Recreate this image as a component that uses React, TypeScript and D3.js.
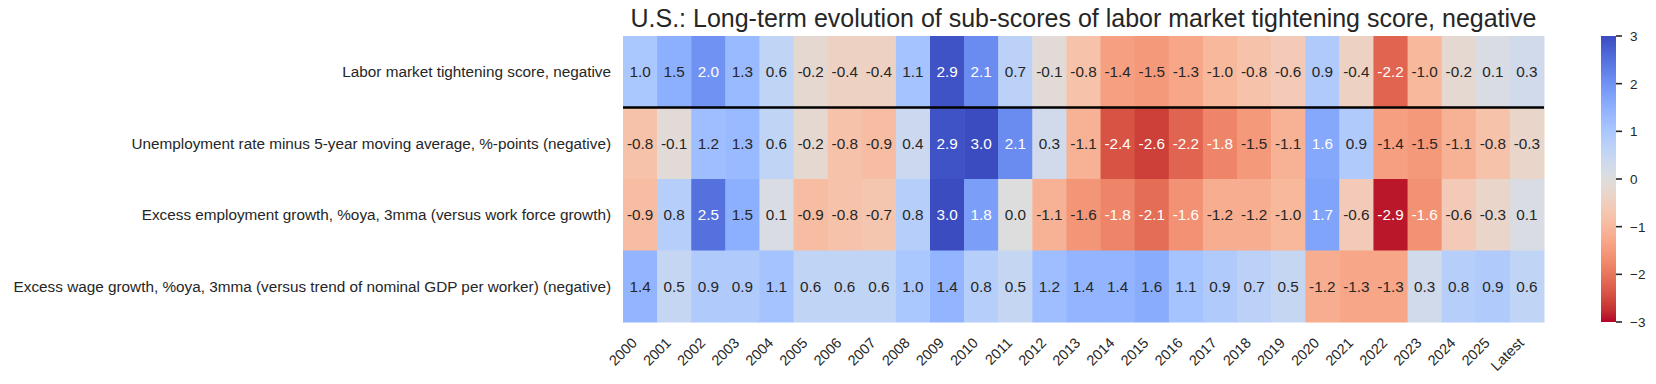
import React from "react";
import * as d3 from "d3";

// columns (years + latest reading)
const columns = [
  "2000", "2001", "2002", "2003", "2004", "2005", "2006", "2007", "2008",
  "2009", "2010", "2011", "2012", "2013", "2014", "2015", "2016", "2017",
  "2018", "2019", "2020", "2021", "2022", "2023", "2024", "2025", "Latest",
];

const rowLabels = [
  "Labor market tightening score, negative",
  "Unemployment rate minus 5-year moving average, %-points (negative)",
  "Excess employment growth, %oya, 3mma (versus work force growth)",
  "Excess wage growth, %oya, 3mma (versus trend of nominal GDP per worker) (negative)",
];

const tighteningScore = [
  1.0, 1.5, 2.0, 1.3, 0.6, -0.2, -0.4, -0.4, 1.1, 2.9, 2.1, 0.7, -0.1, -0.8,
  -1.4, -1.5, -1.3, -1.0, -0.8, -0.6, 0.9, -0.4, -2.2, -1.0, -0.2, 0.1, 0.3,
];
const unemploymentGap = [
  -0.8, -0.1, 1.2, 1.3, 0.6, -0.2, -0.8, -0.9, 0.4, 2.9, 3.0, 2.1, 0.3, -1.1,
  -2.4, -2.6, -2.2, -1.8, -1.5, -1.1, 1.63, 0.9, -1.4, -1.5, -1.1, -0.8, -0.3,
];
const excessEmployment = [
  -0.9, 0.8, 2.5, 1.5, 0.1, -0.9, -0.8, -0.7, 0.8, 3.0, 1.8, 0.0, -1.1, -1.56,
  -1.8, -2.1, -1.63, -1.2, -1.2, -1.0, 1.7, -0.6, -2.9, -1.62, -0.6, -0.3, 0.1,
];
const excessWage = [
  1.4, 0.5, 0.9, 0.9, 1.1, 0.6, 0.6, 0.6, 1.0, 1.4, 0.8, 0.5, 1.2, 1.4, 1.4,
  1.56, 1.1, 0.9, 0.7, 0.5, -1.2, -1.3, -1.3, 0.3, 0.8, 0.9, 0.6,
];

const colorbarTicks = [3, 2, 1, 0, -1, -2, -3];

// coolwarm (Moreland), from blue to red; used reversed (blue = positive)
const coolwarm = [
  [59, 76, 192], [68, 90, 204], [77, 104, 215], [87, 117, 225], [98, 130, 234],
  [108, 142, 241], [119, 154, 247], [130, 165, 251], [141, 176, 254],
  [152, 185, 255], [163, 194, 255], [174, 201, 253], [184, 208, 249],
  [194, 213, 244], [204, 217, 238], [213, 219, 230], [221, 221, 221],
  [229, 216, 209], [236, 211, 197], [241, 204, 185], [245, 196, 173],
  [247, 187, 160], [247, 177, 148], [247, 166, 135], [244, 154, 123],
  [241, 141, 111], [236, 127, 99], [229, 112, 88], [222, 96, 77],
  [213, 80, 66], [203, 62, 56], [192, 40, 47], [180, 4, 38],
];

const FONT = "'Liberation Sans', Arial, sans-serif";
const INK = "#262626";

const lum = (fill: string) => {
  const c = d3.rgb(fill);
  const f = (v: number) => {
    v = v / 255;
    return v <= 0.03928 ? v / 12.92 : Math.pow((v + 0.055) / 1.055, 2.4);
  };
  return 0.2126 * f(c.r) + 0.7152 * f(c.g) + 0.0722 * f(c.b);
};

export default function App() {
  const rows = [tighteningScore, unemploymentGap, excessEmployment, excessWage];

  const left = 623, right = 1544, top = 36, bottom = 322;
  const x = d3.scaleBand().domain(columns).range([left, right]);
  const y = d3.scaleBand().domain(rowLabels).range([top, bottom]);

  const color = d3
    .scaleLinear<string>()
    .domain(coolwarm.map((_, i) => 3 - (6 * i) / (coolwarm.length - 1)))
    .range(coolwarm.map(c => `rgb(${c[0]},${c[1]},${c[2]})`))
    .interpolate(d3.interpolateRgb)
    .clamp(true);

  const cbX = 1601, cbW = 15;
  const cbY = d3.scaleLinear().domain([-3, 3]).range([bottom, top]);
  const stops = d3.range(0, 61).map(i => 3 - i / 10);

  const fs = 14.5;

  return (
    <div style={{ position: "absolute", left: 0, top: 0 }}>
      <svg width={1656} height={384} style={{ display: "block", fontFamily: FONT }}>
        <defs>
          <linearGradient id="cb" x1="0" y1="0" x2="0" y2="1">
            {stops.map((v, i) => (
              <stop key={i} offset={i / (stops.length - 1)} stopColor={color(v)} />
            ))}
          </linearGradient>
        </defs>
        <rect width={1656} height={384} fill="#fff" />

        <text x={(left + right) / 2} y={27} textAnchor="middle" fontSize={25} fill={INK}>
          U.S.: Long-term evolution of sub-scores of labor market tightening score, negative
        </text>

        {rows.map((vals, r) =>
          vals.map((v, c) => {
            const fill = color(v);
            const cx = x(columns[c])! + x.bandwidth() / 2;
            const cy = y(rowLabels[r])! + y.bandwidth() / 2;
            return (
              <g key={r + "-" + c}>
                <rect
                  x={x(columns[c])}
                  y={y(rowLabels[r])}
                  width={x.bandwidth() + 0.5}
                  height={y.bandwidth() + 0.5}
                  fill={fill}
                />
                <text
                  x={cx}
                  y={cy}
                  dy="0.36em"
                  textAnchor="middle"
                  fontSize={15.3}
                  fill={lum(fill) < 0.408 ? "#fff" : INK}
                >
                  {v.toFixed(1)}
                </text>
              </g>
            );
          })
        )}

        <line x1={left} x2={right} y1={y(rowLabels[1])} y2={y(rowLabels[1])} stroke="#000" strokeWidth={2.5} />

        {rowLabels.map(l => (
          <text
            key={l}
            x={611}
            y={y(l)! + y.bandwidth() / 2}
            dy="0.36em"
            textAnchor="end"
            fontSize={15.3}
            fill={INK}
          >
            {l}
          </text>
        ))}

        {columns.map(cl => {
          const cx = x(cl)! + x.bandwidth() / 2;
          const ax = cx - 0.15 * fs;
          const ay = bottom + 12.5 + 0.64 * fs;
          return (
            <text
              key={cl}
              transform={`translate(${ax},${ay}) rotate(-45)`}
              textAnchor="end"
              fontSize={fs}
              fill={INK}
            >
              {cl}
            </text>
          );
        })}

        <rect x={cbX} y={top} width={cbW} height={bottom - top} fill="url(#cb)" />
        {colorbarTicks.map(t => (
          <g key={t}>
            <line x1={cbX + cbW} x2={cbX + cbW + 6} y1={cbY(t)} y2={cbY(t)} stroke={INK} strokeWidth={1.6} />
            <text x={1630} y={cbY(t)} dy="0.36em" fontSize={13.5} fill={INK}>
              {t < 0 ? "\u2212" + Math.abs(t) : String(t)}
            </text>
          </g>
        ))}
      </svg>
    </div>
  );
}
